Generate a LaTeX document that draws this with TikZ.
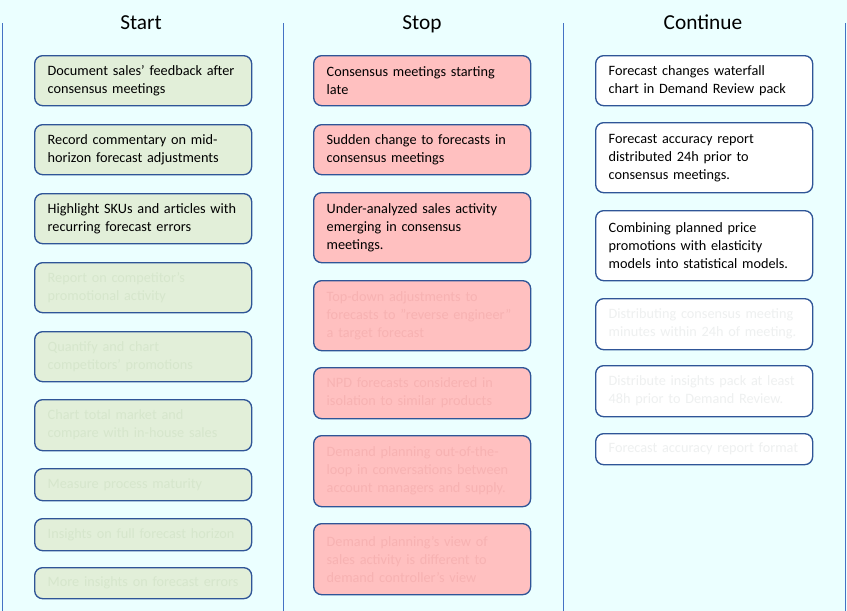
\documentclass[tikz,border=0pt]{standalone}
\usepackage{fontspec}
\setmainfont{Carlito}
\usepackage{tikz}
\usepackage{xcolor}
\usetikzlibrary{shapes, arrows}

\definecolor{bgcyan}{RGB}{235,255,255}
\definecolor{colline}{RGB}{68,114,196}
\definecolor{boxedge}{RGB}{47,85,151}
\definecolor{startfill}{RGB}{226,239,217}
\definecolor{stopfill}{RGB}{255,192,192}
\definecolor{startfade}{RGB}{214,230,204}
\definecolor{stopfade}{RGB}{247,178,178}
\definecolor{contfade}{RGB}{238,240,240}

\tikzset{
    colhead/.style={inner sep=0.75pt, anchor=base, font=\fontsize{16}{19}\selectfont},
    itembox/.style={draw=boxedge, line width=1pt, rounded corners=6pt, anchor=north west,
        minimum width=162.75pt, text width=143.25pt, inner xsep=9.75pt, inner ysep=0pt,
        align=left, font=\fontsize{10.7}{13.5}\selectfont},
    startbox/.style={itembox, fill=startfill},
    stopbox/.style={itembox, fill=stopfill},
    contbox/.style={itembox, fill=white},
}

\begin{document}
\begin{tikzpicture}[x=0.75pt,y=0.75pt,yscale=-1,xscale=1]
    % background, sets the page
    \fill [bgcyan] (0,0) rectangle (847,611);
    \useasboundingbox (0,0) rectangle (847,611);

    %Straight Lines (column separators)
    \coordinate (l1t) at (2,23);   \coordinate (l1b) at (2,611);
    \coordinate (l2t) at (283,23); \coordinate (l2b) at (283,611);
    \coordinate (l3t) at (563,23); \coordinate (l3b) at (563,611);
    \coordinate (l4t) at (845,23); \coordinate (l4b) at (845,611);
    \draw [color=colline, line width=0.75pt] (l1t) -- (l1b);
    \draw [color=colline, line width=0.75pt] (l2t) -- (l2b);
    \draw [color=colline, line width=0.75pt] (l3t) -- (l3b);
    \draw [color=colline, line width=0.75pt] (l4t) -- (l4b);

    % Column heads
    \node [colhead] (hstart) at (141,29) {Start};
    \node [colhead] (hstop) at (422,29) {Stop};
    \node [colhead] (hcont) at (703,29) {Continue};

    % Start column
    \node [startbox, minimum height=37.5pt] (start1) at (34,55) {Document sales’ feedback after\\consensus meetings};
    \node [startbox, minimum height=37.5pt] (start2) at (34,124) {Record commentary on mid-\\horizon forecast adjustments};
    \node [startbox, minimum height=37.5pt] (start3) at (34,193) {Highlight SKUs and articles with\\recurring forecast errors};
    \node [startbox, minimum height=37.5pt, text=startfade] (start4) at (34,262) {Report on competitor’s\\promotional activity};
    \node [startbox, minimum height=37.5pt, text=startfade] (start5) at (34,331) {Quantify and chart\\competitors’ promotions};
    \node [startbox, minimum height=38.25pt, text=startfade] (start6) at (34,399) {Chart total market and\\compare with in-house sales};
    \node [startbox, minimum height=24pt, text=startfade] (start7) at (34,468) {Measure process maturity};
    \node [startbox, minimum height=24pt, text=startfade] (start8) at (34,518) {Insights on full forecast horizon};
    \node [startbox, minimum height=23.25pt, text=startfade] (start9) at (34,567) {More insights on forecast errors};

    % Stop column
    \node [stopbox, minimum height=37.5pt] (stop1) at (313,55) {Consensus meetings starting\\late};
    \node [stopbox, minimum height=37.5pt] (stop2) at (313,124) {Sudden change to forecasts in\\consensus meetings};
    \node [stopbox, minimum height=52.5pt] (stop3) at (313,192) {Under-analyzed sales activity\\emerging in consensus\\meetings.};
    \node [stopbox, minimum height=52.5pt, text=stopfade] (stop4) at (313,280) {Top-down adjustments to\\forecasts to ”reverse engineer”\\a target forecast};
    \node [stopbox, minimum height=38.25pt, text=stopfade] (stop5) at (313,367) {NPD forecasts considered in\\isolation to similar products};
    \node [stopbox, minimum height=53.25pt, text=stopfade] (stop6) at (313,435) {Demand planning out-of-the-\\loop in conversations between\\account managers and supply.};
    \node [stopbox, minimum height=53.25pt, text=stopfade] (stop7) at (313,523) {Demand planning’s view of\\sales activity is different to\\demand controller’s view};

    % Continue column
    \node [contbox, minimum height=37.5pt] (cont1) at (595,55) {Forecast changes waterfall\\chart in Demand Review pack};
    \node [contbox, minimum height=52.5pt] (cont2) at (595,122) {Forecast accuracy report\\distributed 24h prior to\\consensus meetings.};
    \node [contbox, minimum height=52.5pt] (cont3) at (595,210) {Combining planned price\\promotions with elasticity\\models into statistical models.};
    \node [contbox, minimum height=38.25pt, text=contfade] (cont4) at (595,298) {Distributing consensus meeting\\minutes within 24h of meeting.};
    \node [contbox, minimum height=38.25pt, text=contfade] (cont5) at (595,365) {Distribute insights pack at least\\48h prior to Demand Review.};
    \node [contbox, minimum height=23.25pt, text=contfade] (cont6) at (595,433) {Forecast accuracy report format};
\end{tikzpicture}
\end{document}
